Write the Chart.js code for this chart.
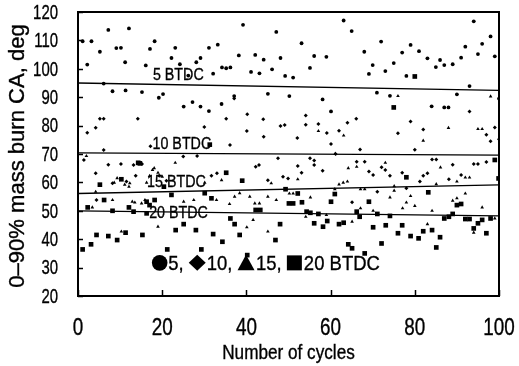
<!DOCTYPE html>
<html><head><meta charset="utf-8">
<script src="https://cdn.jsdelivr.net/npm/chart.js@4.4.0/dist/chart.umd.min.js"></script>
<style>html,body{margin:0;padding:0;background:#fff}#wrap{width:519px;height:366px}</style>
</head><body><div id="wrap"><canvas id="c" width="519" height="366"></canvas></div>
<script>
// ---- data (cycle, burn duration deg CA) ----
const seriesNames = ['5 BTDC', '10 BTDC', '15 BTDC', '20 BTDC'];
const btdc5 = [[1.1,109.7],[2.2,101.5],[3.2,109.7],[5.2,106],[7.2,113.7],[9.1,107.3],[10.2,107.4],[11.2,102.3],[12.1,114.2],[16.1,101.2],[17.1,107],[18.2,109.7],[22.2,103.8],[23.1,107.4],[24.2,101.6],[26.2,97.6],[28.1,102.3],[29.1,103.8],[31.1,107.4],[32.1,98.3],[33.2,108.5],[34.2,100.5],[35.2,100.2],[36.2,100.5],[38.2,104.7],[39.2,115.5],[41.1,98.9],[42.1,104.9],[43.1,98.4],[44.1,103.2],[46.1,99.8],[47.1,113],[48.1,103.8],[49.2,97.5],[51.1,96.9],[53.1,109],[55.1,100.3],[56.1,104.5],[59,104.2],[63.1,117],[65,113.3],[68,106],[69.1,98.2],[70,101.3],[72,109.6],[73,99.2],[75,102],[77,105.7],[78,97.5],[79,108.4],[81,106.2],[83,103.7],[85,100.6],[86,103.1],[87,101.3],[89,101.6],[91,103.9],[92,107.8],[93,93.9],[94,116.7],[95,105.2],[96,108.8],[98,111.4],[99,104.4],
  [6.1,94.8],[8.2,92.1],[11.3,92.4],[15.2,91.8],[19.2,89.8],[20.2,91.1],[25.1,86.7],[27.2,88.3],[29.1,86.7],[31.1,85.1],[34.1,87.6],[37.1,90.4],[45.1,91.2],[50.2,90.4],[58.1,89.2],[71,91.6],[74.1,90.5],[90,91],[100,89.5],[84,86.8],[87,86.4],[88,86.4],[60.1,85]];
const btdc10 = [[2.2,77.5],[4.2,79.2],[5.2,82.4],[6.1,82.4],[14.2,82.4],[17.2,72.7],[30,79.5],[35.2,82.4],[36.1,73.2],[37.1,89.5],[40.1,78.1],[40.2,84],[44,82.2],[44.1,76.1],[48.1,79.9],[49.1,80.2],[52.1,75.6],[54.1,83.6],[54.1,80.3],[57.1,80.6],[59.1,77.4],[60.1,73.5],[62,78.2],[64,81],[66.1,82.4],[67,71.6],[76,77.3],[79,81.4],[80,71.5],[82,78.6],[93,85],[97,76.8],[98,74.5],[99,79.3],[100,75.2],
  [1.4,67.9],[4.2,63.2],[6.1,71.4],[7.2,66.2],[8.2,59.7],[10.2,66.5],[11.5,60.3],[13.2,66.1],[13.7,62.3],[15.2,66.5],[19.3,62.3],[21,60.6],[25,69.1],[28.3,69.3],[31.7,62.3],[33,63.2],[42.2,65.5],[43,66.1],[45.1,60.8],[47.5,68.5],[48.7,62],[49.9,61.4],[52.2,65.8],[53.1,63.4],[55.1,68.5],[56.1,67.7],[56.1,66.1],[58.1,64.1],[61.2,70],[65.1,53],[66.2,67.3],[68.1,67.3],[69.1,63.8],[70.1,62.6],[71.1,56.7],[72.1,65.3],[73,64.4],[74.1,62.3],[77,63.4],[78,57.9],[81.2,60.3],[82,62.3],[83,63.2],[84.1,68.1],[85.1,68.1],[88.1,61.1],[89,66.2],[91,62.6],[94,66.5],[95,66.5],[97,67.2],[4.4,53.8]];
const btdc15 = [[2,69.3],[8.6,59.9],[9.3,61.5],[11.1,59.2],[12.1,58.5],[12.3,59.7],[16.3,59.9],[17,62.3],[17.7,64.4],[18.1,65],[19,63.4],[20,62],[23.1,66.9],[30.1,59.9],[34.1,60.8],[45.9,59.7],[4.2,56.7],[8.2,53.8],[12.9,53.2],[13.5,52.9],[15.1,52.6],[15.9,53.8],[25.1,53.2],[27.5,53.8],[32.9,53.8],[36,52.4],[37.2,55],[38.4,56.2],[40.8,55],[42,52.6],[43.1,52.6],[45.1,55],[47.1,53.8],[3.4,51.2],[10.3,42.7],[19,44.4],[40.1,44.2],[41.6,46.8],[45.1,42.7],[50.2,56.1],[51.1,56.1],[52.2,61.1],[55.2,54.7],[54.1,47.9],[59,48.5],[61,57.6],[62,59.3],[63,59.9],[64,60.3],[64.2,65],[66.2,65.5],[67.1,57.6],[68.1,57.6],[67.1,50.9],[70.1,50],[73,66.9],[74.1,54.7],[75.1,58.7],[75.1,57.1],[77.1,50.9],[78,52.9],[79,55.2],[80,51.7],[84.1,50],[85.1,59.4],[86.1,65.3],[89,53.6],[90,54.4],[90,60.3],[92,56.1],[92,61.7],[93,61.7],[96,51.2],[65.1,46.2],[83,45.3],[94,42.3],[99,47.3],
  [57.1,78.1],[61.1,70.1],[63.1,76.5],[76,90.4],[82,74.7],[88,79.2],[95,78.8],[96,78.8],[98,90.3]];
const btdc20 = [[5.2,59.2],[6.2,53.8],[10.3,61.1],[14.3,66.9],[14.7,66.7],[20.4,58.5],[35.2,63.4],[39,60.6],[49.3,57.6],[16.3,53.2],[18.2,53.8],[17,52],[22.2,55.6],[30.1,56.2],[31.7,54.4],[42.2,50.3],[43.3,50.3],[50.1,52.6],[1.1,36.4],[2.3,51.2],[3.1,38.2],[4.4,41.5],[7.2,41.1],[8.2,50],[9.3,39.7],[11.3,42.3],[12.1,51.2],[13.2,49.7],[15.3,41.5],[16.3,49.1],[21.2,36.4],[23.2,43.2],[25.1,45.3],[28,43.2],[29.3,36.4],[32.1,41.8],[34.3,39.1],[36.2,47.3],[37.2,45.3],[38.4,41.5],[40.2,34.4],[46.9,39.7],[48,45.3],
  [51.1,52.6],[52.2,56.1],[53.2,53],[54.3,49.7],[55.2,49.3],[57.1,48.9],[60.1,53.2],[61,55.9],[66.2,49.7],[69.1,53.2],[71.1,48.9],[83.2,56.5],[90,52],[91,52.4],[56.1,45.6],[58.2,44.4],[59.2,46.4],[62,45.3],[63.1,45.8],[66.9,47.9],[64.2,38.2],[65.1,36.8],[68.1,35],[70.1,44.2],[72.1,38.5],[73.1,44.9],[74.1,48.2],[76,42.1],[77,44.9],[79,41.1],[80.9,40.3],[82,42.8],[84.1,43.2],[85.1,37.1],[86,40.7],[87,47.3],[88.1,47.9],[89,48.9],[92,47.1],[93,47.1],[94,43.8],[95,45.6],[96,46.8],[97,42.1],[98,47.3],[78,61.8],[99,67.9],[99.9,61.4],
  [31.3,73.3],[80,97.3],[75,86.4]];
// linear trend lines: value at cycle 0 and at cycle 100
const trendStart = [95.0, 70.4, 56.1, 50.0];
const trendEnd = [92.4, 69.6, 59.1, 48.2];
const xRange = [0, 100];
const yRange = [20, 120];
const xStep = 20, yStep = 10;
const xTitle = 'Number of cycles';
const yTitle = '0\u201390% mass burn CA, deg';

// ---- styling ----
const FONT = "'Liberation Sans',Arial,sans-serif";
const styles = [
  {pointStyle: 'circle', radius: 1.9},
  {pointStyle: 'rectRot', radius: 2.0},
  {pointStyle: 'triangle', radius: 2.1},
  {pointStyle: 'rect', radius: 3.3}
];
const toXY = arr => arr.map(p => ({x: p[0], y: p[1]}));
const allSeries = [btdc5, btdc10, btdc15, btdc20];
const datasets = [];
allSeries.forEach((s, i) => {
  datasets.push({
    label: seriesNames[i], data: toXY(s), showLine: false,
    pointStyle: styles[i].pointStyle, pointRadius: styles[i].radius,
    backgroundColor: '#000', borderColor: '#000', borderWidth: 0, order: 1
  });
});
trendStart.forEach((v, i) => {
  datasets.push({
    type: 'line', label: seriesNames[i] + ' trend',
    data: [{x: xRange[0], y: v}, {x: xRange[1], y: trendEnd[i]}],
    borderColor: '#000', borderWidth: 1.3, pointRadius: 0, fill: false, order: 2
  });
});

// condensed text helper
function txt(ctx, s, x, y, size, sx, align, base, rot) {
  ctx.save();
  ctx.translate(x, y);
  if (rot) ctx.rotate(-Math.PI / 2);
  ctx.scale(sx, 1);
  ctx.font = size + 'px ' + FONT;
  ctx.fillStyle = '#000';
  ctx.strokeStyle = '#000';
  ctx.lineWidth = 0.35;
  ctx.textAlign = align; ctx.textBaseline = base;
  ctx.fillText(s, 0, 0);
  ctx.strokeText(s, 0, 0);
  const w = ctx.measureText(s).width * sx;
  ctx.restore();
  return w;
}

const frame = {
  id: 'frame',
  afterDatasetsDraw(chart) {
    const {ctx, chartArea: a, scales: {x, y}} = chart;
    ctx.save();
    ctx.strokeStyle = '#000';
    ctx.lineWidth = 1.5;
    y.ticks.forEach(t => { const py = Math.round(y.getPixelForValue(t.value)) + 0.5; ctx.beginPath(); ctx.moveTo(a.left, py); ctx.lineTo(a.left + 5, py); ctx.stroke(); });
    x.ticks.forEach(t => { const px = Math.round(x.getPixelForValue(t.value)) + 0.5; ctx.beginPath(); ctx.moveTo(px, a.bottom); ctx.lineTo(px, a.bottom - 6); ctx.stroke(); });
    ctx.lineWidth = 2;
    ctx.strokeRect(a.left, a.top, a.right - a.left, a.bottom - a.top);
    ctx.restore();
    // tick labels (condensed face)
    y.ticks.forEach(t => txt(ctx, t.label, a.left - 20, y.getPixelForValue(t.value) + 1, 21, 0.71, 'right', 'middle'));
    x.ticks.forEach(t => txt(ctx, t.label, x.getPixelForValue(t.value), a.bottom + 39, 23, 0.82, 'center', 'alphabetic'));
    // axis titles
    txt(ctx, xTitle, (a.left + a.right) / 2, 359, 19.5, 0.88, 'center', 'alphabetic');
    txt(ctx, yTitle, 24, (a.top + a.bottom) / 2 + 2, 22.5, 0.98, 'center', 'alphabetic', true);
  }
};

const labels = {
  id: 'labels',
  beforeDatasetsDraw(chart, args, opts) {
    const {ctx, scales: {x, y}} = chart;
    opts.items.forEach(it => txt(ctx, it.text, x.getPixelForValue(it.at[0]), y.getPixelForValue(it.at[1]), 17, 0.84, 'left', 'alphabetic'));
    // marker key
    const k = opts.key;
    let px = x.getPixelForValue(k.at[0]);
    const base = y.getPixelForValue(k.at[1]);
    const cy = base - 7;
    ctx.save();
    ctx.fillStyle = '#000';
    k.parts.forEach(p => {
      ctx.beginPath();
      if (p.shape === 'circle') { ctx.arc(px + 8, cy, 7.8, 0, Math.PI * 2); px += 16.5; }
      else if (p.shape === 'diamond') { ctx.moveTo(px + 8.5, cy - 8); ctx.lineTo(px + 17, cy); ctx.lineTo(px + 8.5, cy + 8); ctx.lineTo(px, cy); ctx.closePath(); px += 18; }
      else if (p.shape === 'triangle') { ctx.moveTo(px + 8.5, cy - 8); ctx.lineTo(px + 17, cy + 7.5); ctx.lineTo(px, cy + 7.5); ctx.closePath(); px += 18.5; }
      else if (p.shape === 'square') { ctx.rect(px, cy - 7.5, 15, 15); px += 17; }
      ctx.fill();
      px += txt(ctx, p.text, px, base, 21, 0.88, 'left', 'alphabetic');
    });
    ctx.restore();
  }
};

new Chart(document.getElementById('c'), {
  type: 'scatter',
  data: {datasets},
  options: {
    responsive: false, devicePixelRatio: 1, animation: false,
    layout: {padding: {top: 12, right: 20, left: 0, bottom: 0}},
    plugins: {
      legend: {display: false}, tooltip: {enabled: false},
      labels: {
        items: [
          {text: '5 BTDC', at: [17.8, 96.0]},
          {text: '10 BTDC', at: [17.7, 71.9]},
          {text: '15 BTDC', at: [16.4, 58.3]},
          {text: '20 BTDC', at: [16.9, 47.4]}
        ],
        key: {
          at: [17.5, 29.2],
          parts: [
            {shape: 'circle', text: '5, '},
            {shape: 'diamond', text: '10, '},
            {shape: 'triangle', text: '15, '},
            {shape: 'square', text: '20 BTDC'}
          ]
        }
      }
    },
    scales: {
      x: {
        type: 'linear', min: xRange[0], max: xRange[1],
        afterFit: s => { s.height = 70; },
        grid: {display: false, drawTicks: false}, border: {display: false},
        ticks: {display: false, stepSize: xStep},
        title: {display: false, text: xTitle}
      },
      y: {
        type: 'linear', min: yRange[0], max: yRange[1],
        afterFit: s => { s.width = 78; },
        grid: {display: false, drawTicks: false}, border: {display: false},
        ticks: {display: false, stepSize: yStep},
        title: {display: false, text: yTitle}
      }
    }
  },
  plugins: [frame, labels]
});
</script></body></html>
